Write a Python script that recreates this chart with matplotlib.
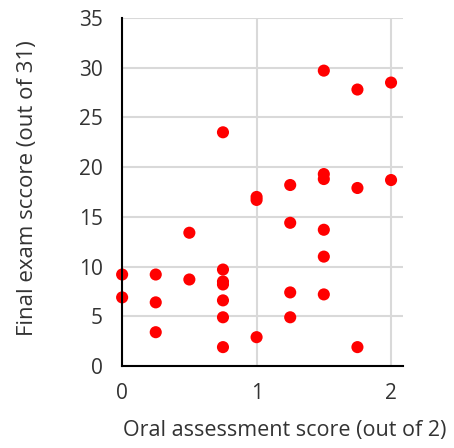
import matplotlib
matplotlib.use("Agg")
import matplotlib.pyplot as plt

oral = [0, 0,
        0.25, 0.25, 0.25,
        0.5, 0.5,
        0.75, 0.75, 0.75, 0.75, 0.75, 0.75, 0.75,
        1, 1, 1,
        1.25, 1.25, 1.25, 1.25,
        1.5, 1.5, 1.5, 1.5, 1.5, 1.5,
        1.75, 1.75, 1.75,
        2, 2]
final = [9.2, 6.9,
         9.2, 6.4, 3.4,
         13.4, 8.7,
         23.5, 9.7, 8.5, 8.2, 6.6, 4.9, 1.9,
         17.0, 16.7, 2.9,
         18.2, 14.4, 7.4, 4.9,
         29.7, 19.3, 18.8, 13.7, 11.0, 7.2,
         27.8, 17.9, 1.9,
         28.5, 18.7]
x_ticks = [0, 1, 2]
y_ticks = [0, 5, 10, 15, 20, 25, 30, 35]

plt.rcParams['font.family'] = ['Open Sans', 'DejaVu Sans']
fig = plt.figure(figsize=(4.54, 4.48), dpi=100)
ax = fig.add_axes([0.269, 0.183, 0.619, 0.777])
ax.scatter(oral, final, s=76, color='#ff0000', edgecolors='none', zorder=3, clip_on=False)
ax.set_xlim(0, 2.09)
ax.set_ylim(0, 35)
ax.set_xticks(x_ticks)
ax.set_yticks(y_ticks)
ax.grid(True, color='#d9d9d9', linewidth=1.5, zorder=0)
ax.set_axisbelow(True)
for s in ['top', 'right']:
    ax.spines[s].set_visible(False)
for s in ['left', 'bottom']:
    ax.spines[s].set_color('black')
    ax.spines[s].set_linewidth(1.5)
    ax.spines[s].set_zorder(4)
ax.tick_params(axis='y', length=0, labelsize=15, colors='#333333', pad=14)
ax.tick_params(axis='x', length=0, labelsize=15, colors='#333333', pad=12)
ax.set_xlabel('Oral assessment score (out of 2)', fontsize=15.5, color='#333333')
ax.set_ylabel('Final exam sccore (out of 31)', fontsize=16, color='#333333')
ax.xaxis.set_label_coords(0.577, -0.155)
ax.yaxis.set_label_coords(-0.30, 0.51)
fig.savefig('out.png', dpi=100)
